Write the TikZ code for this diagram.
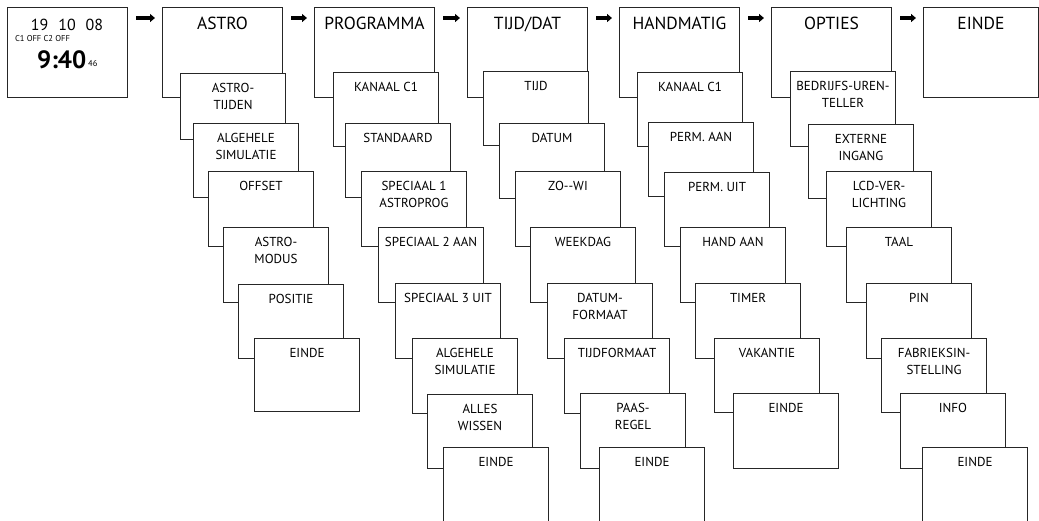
\documentclass[tikz,border=0pt]{standalone}
\usepackage{fontspec}
\setmainfont{PT Sans}
\usetikzlibrary{arrows.meta}

\begin{document}
\begin{tikzpicture}[x=1pt,y=-1pt,
  menubox/.style={draw=black!85,fill=white,line width=1pt,anchor=north west,
    minimum width=105pt,inner sep=0pt},
  headbox/.style={menubox,minimum width=120pt,minimum height=90pt},
  itemtext/.style={anchor=north,align=center,inner sep=0pt,yshift=-10pt,
    font=\fontsize{13}{17}\selectfont},
  headtext/.style={anchor=north,align=center,inner sep=0pt,yshift=-10pt,
    font=\fontsize{17.5}{20}\selectfont},
  nextarrow/.style={-{Triangle[length=5pt,width=8pt]},line width=4.5pt,
    shorten <=8pt,shorten >=7pt}]

    \useasboundingbox (0,0) rectangle (1039,520);

    % top row
    \node[headbox] (clock) at (7,7) {};
    \node[headbox,label={[headtext]north:ASTRO}] (astro) at (162,7) {};
    \node[headbox,label={[headtext]north:PROGRAMMA}] (prog) at (314,7) {};
    \node[headbox,label={[headtext]north:TIJD/DAT}] (tijd) at (467,7) {};
    \node[headbox,label={[headtext]north:HANDMATIG}] (hand) at (619,7) {};
    \node[headbox,label={[headtext]north:OPTIES}] (opties) at (771,7) {};
    \node[headbox,minimum width=115pt,label={[headtext]north:EINDE}] (einde) at (923,7) {};

    \node[anchor=base,inner sep=0pt,font=\fontsize{16}{18}\selectfont] (date) at (67,30) {19\hspace{10pt}10\hspace{10pt}08};
    \node[anchor=base,inner sep=0pt,font=\fontsize{8.5}{10}\selectfont] (status) at (42.5,41) {C1 OFF C2 OFF};
    \node[anchor=base,inner sep=0pt,font=\bfseries\fontsize{25}{28}\selectfont] (time) at (61.7,68.3) {9:40};
    \node[anchor=base west,inner sep=0pt,font=\fontsize{8.5}{10}\selectfont] (sec) at (88,66.5) {46};

    \draw[nextarrow] ([yshift=-11pt]clock.north east) -- ([yshift=-11pt]astro.north west);
    \draw[nextarrow] ([yshift=-11pt]astro.north east) -- ([yshift=-11pt]prog.north west);
    \draw[nextarrow] ([yshift=-11pt]prog.north east) -- ([yshift=-11pt]tijd.north west);
    \draw[nextarrow] ([yshift=-11pt]tijd.north east) -- ([yshift=-11pt]hand.north west);
    \draw[nextarrow] ([yshift=-11pt]hand.north east) -- ([yshift=-11pt]opties.north west);
    \draw[nextarrow] ([yshift=-11pt]opties.north east) -- ([yshift=-11pt]einde.north west);

    % ASTRO
    \node[menubox,minimum height=66pt,label={[itemtext]north:ASTRO-\\TIJDEN}] (a1) at (180,73) {};
    \node[menubox,minimum height=74pt,label={[itemtext]north:ALGEHELE\\SIMULATIE}] (a2) at (193,123) {};
    \node[menubox,minimum height=75pt,label={[itemtext]north:OFFSET}] (a3) at (208,171) {};
    \node[menubox,minimum height=75pt,label={[itemtext]north:ASTRO-\\MODUS}] (a4) at (223,227) {};
    \node[menubox,minimum height=74pt,label={[itemtext]north:POSITIE}] (a5) at (238,284) {};
    \node[menubox,minimum height=73pt,label={[itemtext]north:EINDE}] (a6) at (254,338) {};

    % PROGRAMMA
    \node[menubox,minimum height=74pt,label={[itemtext]north:KANAAL C1}] (p1) at (333,72) {};
    \node[menubox,minimum height=74pt,label={[itemtext]north:STANDAARD}] (p2) at (345,123) {};
    \node[menubox,minimum height=75pt,label={[itemtext]north:SPECIAAL 1\\ASTROPROG}] (p3) at (361,171) {};
    \node[menubox,minimum height=75pt,label={[itemtext]north:SPECIAAL 2 AAN}] (p4) at (378,227) {};
    \node[menubox,minimum height=75pt,label={[itemtext]north:SPECIAAL 3 UIT}] (p5) at (395,283) {};
    \node[menubox,minimum height=75pt,label={[itemtext]north:ALGEHELE\\SIMULATIE}] (p6) at (412,338) {};
    \node[menubox,minimum height=74pt,label={[itemtext]north:ALLES\\WISSEN}] (p7) at (427,394) {};
    \node[menubox,minimum height=90pt,label={[itemtext]north:EINDE}] (p8) at (443,447) {};

    % TIJD/DAT
    \node[menubox,minimum height=74pt,label={[itemtext]north:TIJD}] (t1) at (483,71) {};
    \node[menubox,minimum height=75pt,label={[itemtext]north:DATUM}] (t2) at (499,123) {};
    \node[menubox,minimum height=75pt,label={[itemtext]north:ZO-{}-WI}] (t3) at (515,171) {};
    \node[menubox,minimum height=75pt,label={[itemtext]north:WEEKDAG}] (t4) at (530,227) {};
    \node[menubox,minimum height=75pt,label={[itemtext]north:DATUM-\\FORMAAT}] (t5) at (547,283) {};
    \node[menubox,minimum height=75pt,label={[itemtext]north:TIJDFORMAAT}] (t6) at (564,338) {};
    \node[menubox,minimum height=75pt,label={[itemtext]north:PAAS-\\REGEL}] (t7) at (580,393) {};
    \node[menubox,minimum height=90pt,label={[itemtext]north:EINDE}] (t8) at (599,447) {};

    % HANDMATIG
    \node[menubox,minimum height=74pt,label={[itemtext]north:KANAAL C1}] (h1) at (637,72) {};
    \node[menubox,minimum height=74pt,label={[itemtext]north:PERM. AAN}] (h2) at (648,122) {};
    \node[menubox,minimum height=74pt,label={[itemtext]north:PERM. UIT}] (h3) at (664,172) {};
    \node[menubox,minimum height=75pt,label={[itemtext]north:HAND AAN}] (h4) at (680,227) {};
    \node[menubox,minimum height=75pt,label={[itemtext]north:TIMER}] (h5) at (695,283) {};
    \node[menubox,minimum height=74pt,label={[itemtext]north:VAKANTIE}] (h6) at (714,338) {};
    \node[menubox,minimum height=75pt,label={[itemtext]north:EINDE}] (h7) at (733,393) {};

    % OPTIES
    \node[menubox,minimum height=75pt,label={[itemtext]north:BEDRIJFS-UREN-\\TELLER}] (o1) at (790,71) {};
    \node[menubox,minimum height=74pt,label={[itemtext]north:EXTERNE\\INGANG}] (o2) at (808,124) {};
    \node[menubox,minimum height=75pt,label={[itemtext]north:LCD-VER-\\LICHTING}] (o3) at (826,171) {};
    \node[menubox,minimum height=75pt,label={[itemtext]north:TAAL}] (o4) at (846,227) {};
    \node[menubox,minimum height=75pt,label={[itemtext]north:PIN}] (o5) at (866,283) {};
    \node[menubox,minimum height=74pt,label={[itemtext]north:FABRIEKSIN-\\STELLING}] (o6) at (881,338) {};
    \node[menubox,minimum height=75pt,label={[itemtext]north:INFO}] (o7) at (900,393) {};
    \node[menubox,minimum height=90pt,label={[itemtext]north:EINDE}] (o8) at (922,447) {};
  \end{tikzpicture}
\end{document}
